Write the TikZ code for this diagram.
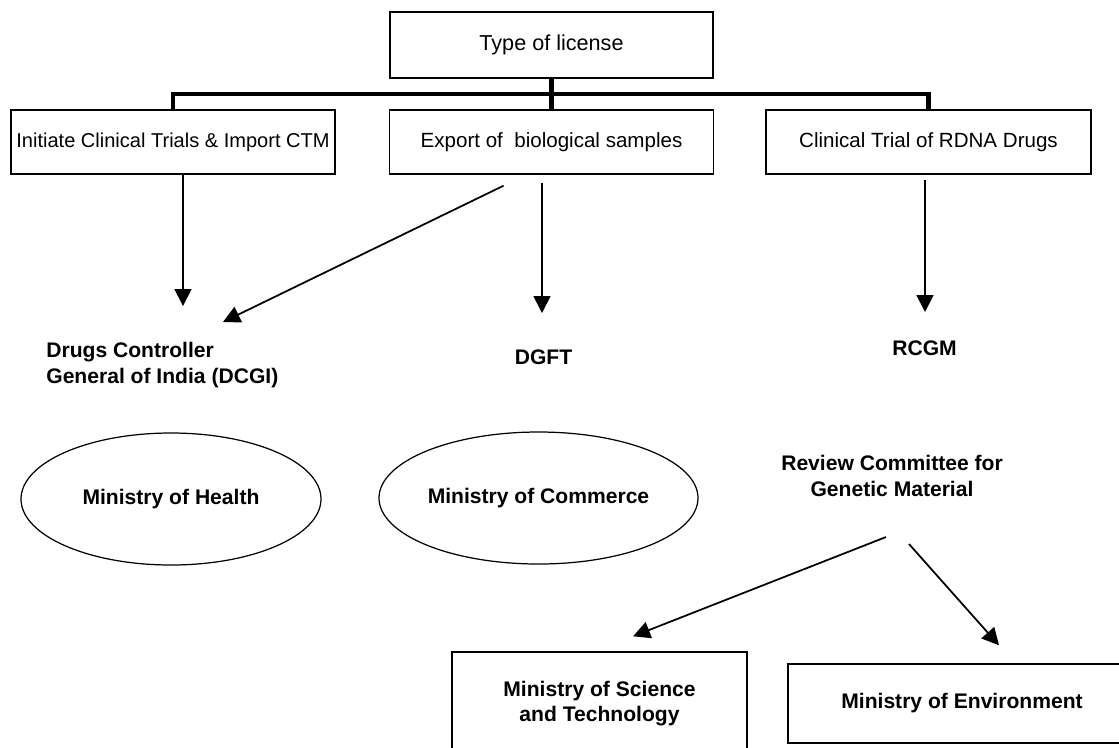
\documentclass[tikz,border=0pt]{standalone}
\usepackage{fontspec}
\setmainfont{Liberation Sans}
\usetikzlibrary{shapes, arrows.meta, positioning}

\begin{document}
\begin{tikzpicture}[
    boxnode/.style={draw, line width=0.8pt, inner sep=0pt, align=center, font=\fontsize{11.7}{14}\selectfont},
    bodytext/.style={inner sep=0pt, font=\bfseries\fontsize{12}{14.4}\selectfont},
    ministry/.style={ellipse, draw, line width=0.7pt, inner sep=0pt, minimum height=2.64cm, font=\bfseries\fontsize{12}{14.4}\selectfont},
    arr/.style={-{Triangle[length=0.34cm, width=0.34cm]}, line width=1pt},
    bus/.style={line width=2.3pt}
  ]
  \useasboundingbox (0, 0) rectangle (22.38, -14.94);
  \clip (0, 0) rectangle (22.38, -14.94);

  % Top of the tree
  \node[boxnode, minimum width=6.46cm, minimum height=1.32cm, font=\fontsize{12.3}{15}\selectfont] (license) at (11.03, -0.90) {Type of license};

  \coordinate (bus) at (0, -1.88);

  \node[boxnode, minimum width=6.48cm, minimum height=1.28cm, font=\fontsize{11.4}{14}\selectfont] (trials) at (3.46, -2.84) {Initiate Clinical Trials \& Import CTM};
  \node[boxnode, minimum width=6.48cm, minimum height=1.28cm] (export) at (11.03, -2.84) {Export of\ \ biological samples};
  \node[boxnode, minimum width=6.50cm, minimum height=1.28cm] (rdna) at (18.57, -2.84) {Clinical Trial of RDNA Drugs};

  \draw[bus] (license) -- (export);
  \draw[bus] (trials.north) |- (rdna.north |- bus) -- (rdna.north);

  % Licensing bodies
  \node[bodytext, align=left, anchor=west] (dcgi) at (0.92, -7.30) {Drugs Controller\\General of India (DCGI)};
  \node[bodytext] (dgft) at (10.87, -7.14) {DGFT};
  \node[bodytext] (rcgm) at (18.49, -6.96) {RCGM};

  \coordinate (dcgi-a) at (3.66, -6.12);
  \coordinate (dcgi-b) at (4.46, -6.44);
  \coordinate (dgft-a) at (10.84, -6.26);
  \coordinate (rcgm-a) at (18.50, -6.24);

  \draw[arr] (trials.south -| dcgi-a) -- (dcgi-a);
  \draw[arr] ([xshift=-0.96cm, yshift=-0.22cm]export.south) -- (dcgi-b);
  \draw[arr, shorten <=0.16cm] (export.south -| dgft-a) -- (dgft-a);
  \draw[arr, shorten <=0.10cm] (rdna.south -| rcgm-a) -- (rcgm-a);

  % Ministries
  \node[ministry, minimum width=6.00cm] (health) at (3.42, -9.98) {Ministry of Health};
  \node[ministry, minimum width=6.38cm] (commerce) at (10.77, -9.96) {Ministry of Commerce};
  \node[bodytext, align=center] (review) at (17.84, -9.52) {Review Committee for\\Genetic Material};

  \node[boxnode, minimum width=5.90cm, minimum height=2.06cm, font=\bfseries\fontsize{12}{14.4}\selectfont] (scitech) at (11.99, -14.07) {Ministry of Science\\and Technology};
  \node[boxnode, minimum width=6.96cm, minimum height=1.58cm, font=\bfseries\fontsize{12}{14.4}\selectfont] (environ) at (19.24, -14.07) {Ministry of Environment};

  \draw[arr] ([xshift=-0.12cm, yshift=-1.22cm]review.center) -- ([xshift=0.67cm, yshift=0.30cm]scitech.north);
  \draw[arr] ([xshift=0.34cm, yshift=-1.36cm]review.center) -- ([xshift=0.74cm, yshift=0.36cm]environ.north);
\end{tikzpicture}
\end{document}
